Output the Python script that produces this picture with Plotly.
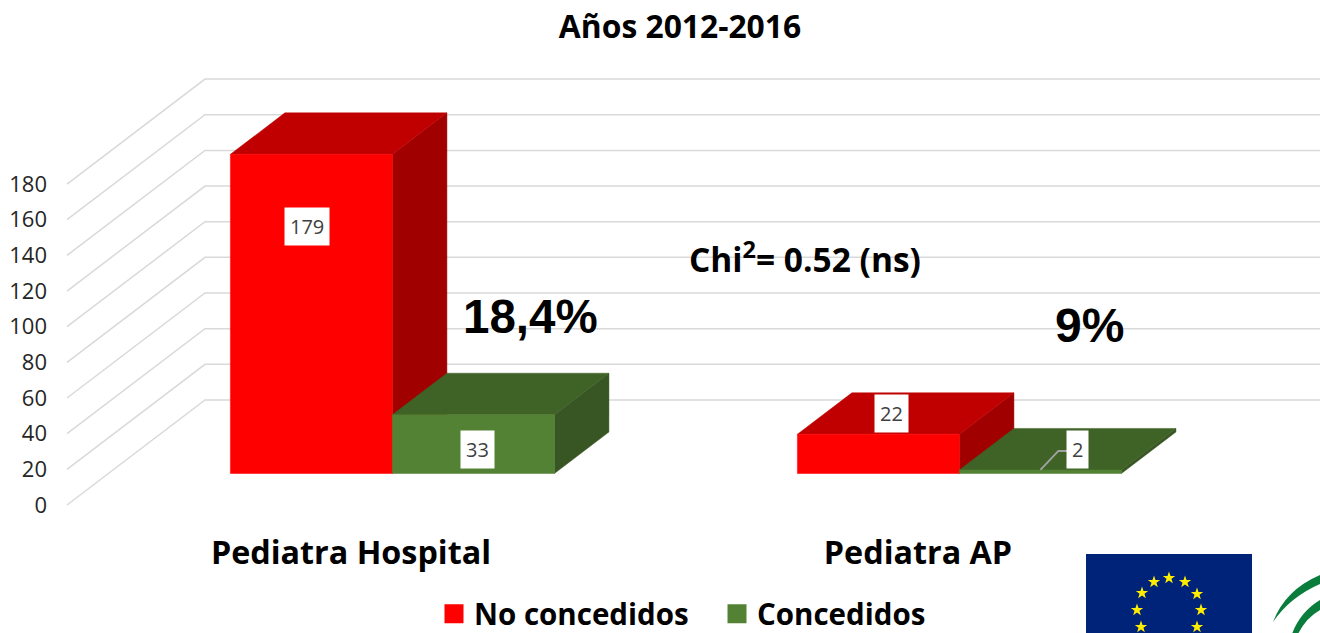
import math
import plotly.graph_objects as go

# ---------- data ----------
categories = ["Pediatra Hospital", "Pediatra AP"]
no_concedidos = [179, 22]
concedidos = [33, 2]
y_ticks = [0, 20, 40, 60, 80, 100, 120, 140, 160, 180]
series_names = ["No concedidos", "Concedidos"]

# ---------- style / layout ----------
W, H = 1320, 633
ML, MB = 48, 108
PX_PER_CAT = 567.0
PX_PER_VAL = 1.783
CAT0_PX = 351.0
ZERO_PX = 505.0
FONT = "Open Sans"
RED = ("#FF0000", "#C00000", "#A00000")
GREEN = ("#548235", "#3F6227", "#375623")
GRID = "#D9D9D9"

# oblique depth of the chart box (axis units)
DEPTH_X = 138.0 / PX_PER_CAT
DEPTH_Y = 105.0 / PX_PER_VAL
T_FRONT, T_BACK = 0.30, 0.695
BAR_W = 162.0 / PX_PER_CAT
GRID_LEFT = (67.0 - CAT0_PX) / PX_PER_CAT

x_range = [(ML - CAT0_PX) / PX_PER_CAT, (W - CAT0_PX) / PX_PER_CAT]
plot_bottom = H - MB
y_range = [(ZERO_PX - plot_bottom) / PX_PER_VAL, ZERO_PX / PX_PER_VAL]


def px_x(px):
    return (px - CAT0_PX) / PX_PER_CAT


def px_y(py):
    return (ZERO_PX - py) / PX_PER_VAL


def paper_x(px):
    return (px - ML) / (W - ML)


def paper_y(py):
    return (H - MB - py) / (H - MB)


def proj(x, v, t):
    return x + t * DEPTH_X, v + t * DEPTH_Y


fig = go.Figure()

# ---------- walls grid ----------
gx, gy = [], []
for v in y_ticks:
    gx += [GRID_LEFT, GRID_LEFT + DEPTH_X, x_range[1], None]
    gy += [v, v + DEPTH_Y, v + DEPTH_Y, None]
fig.add_trace(go.Scatter(x=gx, y=gy, mode="lines", line=dict(color=GRID, width=1.5),
                         showlegend=False, hoverinfo="skip"))


def poly(points, color, name):
    xs = [p[0] for p in points] + [points[0][0]]
    ys = [p[1] for p in points] + [points[0][1]]
    fig.add_trace(go.Scatter(x=xs, y=ys, mode="lines", fill="toself", fillcolor=color,
                             line=dict(color=color, width=0.5), showlegend=False,
                             name=name, hoverinfo="skip"))


# ---------- 3D boxes ----------
for i, cat in enumerate(categories):
    for s, (vals, cols) in enumerate(((no_concedidos, RED), (concedidos, GREEN))):
        v = vals[i]
        x0 = i + (s - 1) * BAR_W
        x1 = x0 + BAR_W
        # side, top, front
        poly([proj(x1, 0, T_FRONT), proj(x1, 0, T_BACK), proj(x1, v, T_BACK), proj(x1, v, T_FRONT)],
             cols[2], series_names[s])
        poly([proj(x0, v, T_FRONT), proj(x1, v, T_FRONT), proj(x1, v, T_BACK), proj(x0, v, T_BACK)],
             cols[1], series_names[s])
        poly([proj(x0, 0, T_FRONT), proj(x1, 0, T_FRONT), proj(x1, v, T_FRONT), proj(x0, v, T_FRONT)],
             cols[0], series_names[s])

# ---------- legend entries ----------
for name, cols in zip(series_names, (RED, GREEN)):
    fig.add_trace(go.Scatter(x=[None], y=[None], mode="markers", name=name,
                             marker=dict(symbol="square", size=16, color=cols[0],
                                         line=dict(color=cols[0], width=3))))

# ---------- data labels ----------
label_shift = {(0, 0): (-4, -72), (1, 0): (4, -35), (0, 1): (13, 21), (1, 1): (37, 20)}
annotations = []
for i in range(len(categories)):
    for s, vals in enumerate((no_concedidos, concedidos)):
        v = vals[i]
        cx, cy = proj(i + (s - 1) * BAR_W + BAR_W / 2, v, T_FRONT)
        dx, dy = label_shift[(s, i)]
        annotations.append(dict(x=cx, y=cy, xref="x", yref="y", text=str(v), showarrow=False,
                                xshift=dx, yshift=dy, bgcolor="white", borderpad=5,
                                font=dict(family=FONT, size=20, color="#404040")))

# leader line for the small label
lead_x0, lead_y0 = proj(1 + BAR_W / 2, concedidos[1], T_FRONT)
fig.add_trace(go.Scatter(
    x=[lead_x0, lead_x0 + 18 / PX_PER_CAT, lead_x0 + 27 / PX_PER_CAT],
    y=[lead_y0 + 0 / PX_PER_VAL, lead_y0 + 19 / PX_PER_VAL, lead_y0 + 19 / PX_PER_VAL],
    mode="lines", line=dict(color="#A0A0A0", width=2), showlegend=False, hoverinfo="skip"))


# ---------- free text ----------
def text(px, py, s, size, family=FONT):
    annotations.append(dict(x=px_x(px), y=px_y(py), xref="x", yref="y", text=s, showarrow=False,
                            font=dict(family=family, size=size, color="black")))


text(530.5, 316, "<b>18,4%</b>", 47.5, "Liberation Sans")
text(1089.5, 325, "<b>9%</b>", 48, "Liberation Sans")
text(805, 257, "<b>Chi<sup>2</sup>= 0.52 (ns)</b>", 33.5)

# ---------- logos (decorative) ----------
shapes = [
    dict(type="rect", xref="paper", yref="paper", x0=paper_x(1086), x1=paper_x(1252),
         y0=paper_y(554), y1=paper_y(640), fillcolor="#00237A", line=dict(width=0), layer="below"),
    dict(type="path", xref="paper", yref="paper", fillcolor="#0A7D3C", line=dict(width=0),
         path=(f"M{paper_x(1273)},{paper_y(622)} Q{paper_x(1285)},{paper_y(590)} {paper_x(1320)},{paper_y(575)} "
               f"L{paper_x(1320)},{paper_y(584)} Q{paper_x(1290)},{paper_y(597)} {paper_x(1273)},{paper_y(622)} Z")),
    dict(type="path", xref="paper", yref="paper", fillcolor="#0A7D3C", line=dict(width=0),
         path=(f"M{paper_x(1292)},{paper_y(634)} Q{paper_x(1300)},{paper_y(612)} {paper_x(1320)},{paper_y(600)} "
               f"L{paper_x(1320)},{paper_y(610)} Q{paper_x(1306)},{paper_y(618)} {paper_x(1298)},{paper_y(634)} Z")),
]
star_px = [(1169, 578), (1154, 582), (1185, 582), (1142, 593), (1197, 594),
           (1137, 610), (1201, 610), (1141, 627), (1197, 627)]
for sx, sy in star_px:
    pts = []
    for k in range(10):
        r = 6.5 if k % 2 == 0 else 2.6
        a = math.pi * k / 5
        pts.append((paper_x(sx + r * math.sin(a)), paper_y(sy - r * math.cos(a))))
    path = "M" + " L".join(f"{a},{b}" for a, b in pts) + " Z"
    shapes.append(dict(type="path", xref="paper", yref="paper", path=path,
                       fillcolor="#FFED00", line=dict(width=0)))

fig.update_layout(
    width=W, height=H, autosize=False,
    margin=dict(l=ML, r=0, t=0, b=MB, pad=0),
    paper_bgcolor="white", plot_bgcolor="white",
    title=dict(text="<b>Años 2012-2016</b>", x=680 / W, xanchor="center", y=1 - 27 / H, yanchor="middle",
               font=dict(family=FONT, size=31.8, color="black")),
    xaxis=dict(range=x_range, tickmode="array", tickvals=list(range(len(categories))), ticktext=categories,
               showgrid=False, zeroline=False, showline=False, ticks="", ticklabelstandoff=6, automargin=False,
               tickfont=dict(family=FONT, size=32.3, color="black", weight="bold")),
    yaxis=dict(range=y_range, tickmode="array", tickvals=y_ticks, showgrid=False, zeroline=False, automargin=False,
               showline=False, ticks="", tickfont=dict(family=FONT, size=22, color="#262626")),
    legend=dict(orientation="h", xref="container", yref="container", x=434 / W, xanchor="left",
                y=1 - 614 / H, yanchor="middle", entrywidth=238, entrywidthmode="pixels",
                font=dict(family=FONT, size=29.5, color="black", weight="bold"), bgcolor="rgba(0,0,0,0)",
                itemclick=False),
    annotations=annotations, shapes=shapes, hovermode=False,
)

fig.write_html("out.html", config={"displayModeBar": False},
               post_script="document.body.style.margin='0';document.body.style.overflow='hidden';")
